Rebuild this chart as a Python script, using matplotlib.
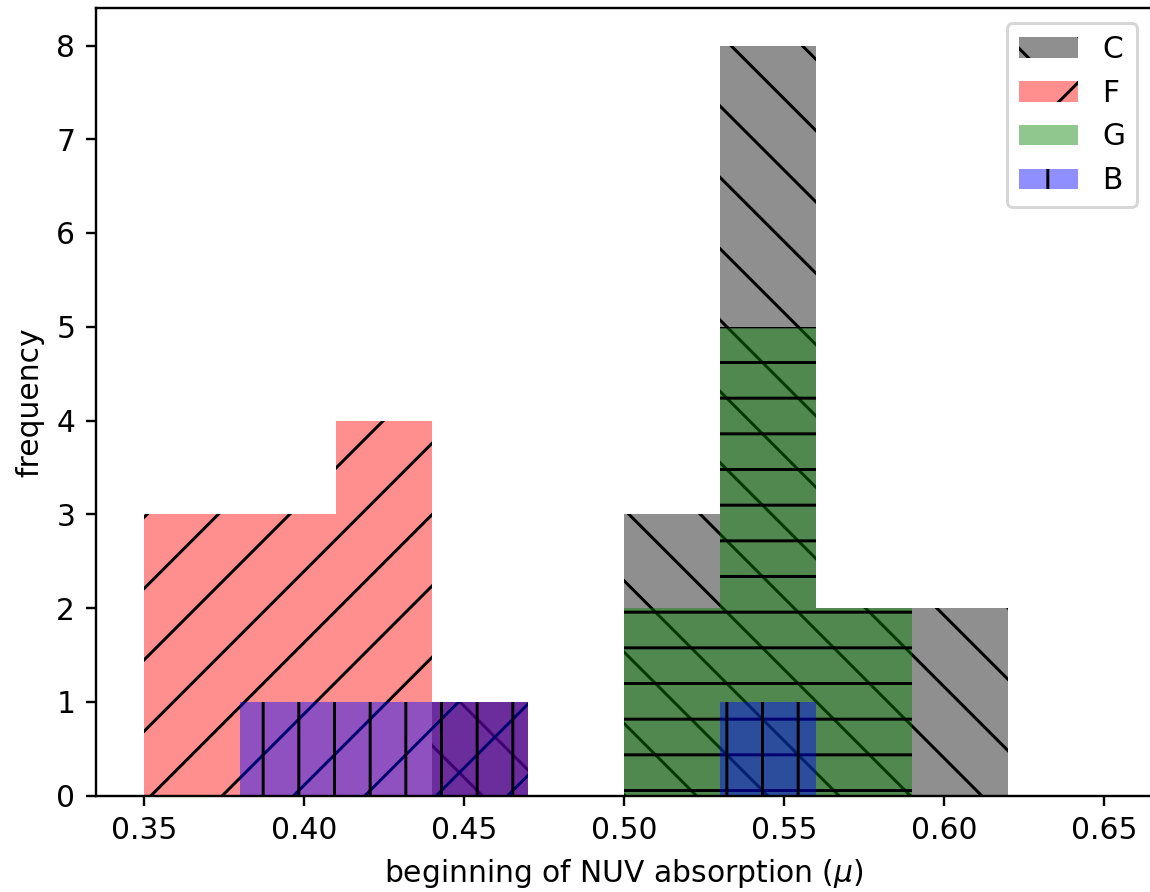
import matplotlib
matplotlib.use("Agg")
import matplotlib.pyplot as plt
import numpy as np

bin_edges = [0.35, 0.38, 0.41, 0.44, 0.47, 0.50, 0.53, 0.56, 0.59, 0.62, 0.65]
labels = ["C", "F", "G", "B"]
counts_C = [0, 0, 0, 1, 0, 3, 8, 2, 2, 0]
counts_F = [3, 3, 4, 1, 0, 0, 0, 0, 0, 0]
counts_G = [0, 0, 0, 0, 0, 2, 5, 2, 0, 0]
counts_B = [0, 1, 1, 1, 0, 0, 1, 0, 0, 0]
colors = ["k", "r", "g", "b"]
hatches = ["\\", "/", "-", "|"]

DPI = 214
OUT_W, OUT_H = 1150, 892
DX, DY = 40, 12  # extra canvas on left/top, cropped away afterwards (hatch phase)
FW, FH = OUT_W + DX, OUT_H + DY

fig = plt.figure(figsize=(FW / DPI, FH / DPI), dpi=DPI)
left_px, right_px = DX + 96, DX + 1152
top_px, bottom_px = DY + 8, DY + 795.5
ax = fig.add_axes([left_px / FW, (FH - bottom_px) / FH,
                   (right_px - left_px) / FW, (bottom_px - top_px) / FH])

edges = np.array(bin_edges)
centers = (edges[:-1] + edges[1:]) / 2
for lab, cnt, col, h in zip(labels, [counts_C, counts_F, counts_G, counts_B], colors, hatches):
    ax.hist(centers, bins=edges, weights=cnt, color=col, alpha=0.44, hatch=h, label=lab)

ax.set_xlabel(r"beginning of NUV absorption ($\mu$)")
ax.set_ylabel("frequency")
ax.set_xticks([0.35, 0.40, 0.45, 0.50, 0.55, 0.60, 0.65])
ax.legend(loc="upper right")

fig.canvas.draw()
img = np.asarray(fig.canvas.buffer_rgba())
crop = img[DY:DY + OUT_H, DX:DX + OUT_W].copy()
plt.imsave("out.png", crop)
